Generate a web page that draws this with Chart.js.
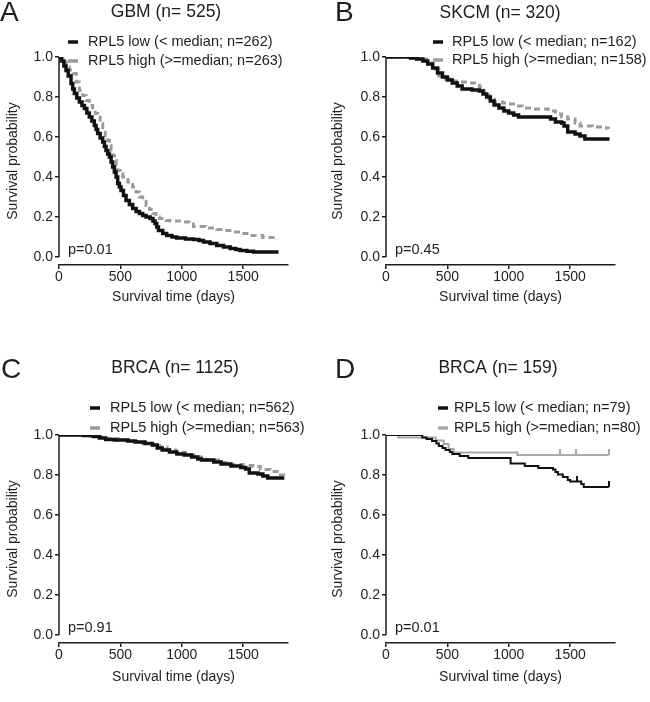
<!DOCTYPE html>
<html>
<head>
<meta charset="utf-8">
<script src="https://cdn.jsdelivr.net/npm/chart.js@4.4.0/dist/chart.umd.min.js"></script>
<style>
  body { margin: 0; background: #fff; width: 650px; height: 702px; position: relative; overflow: hidden; }
  canvas { position: absolute; }
</style>
</head>
<body>
<canvas id="cA" width="325" height="340" style="left:0;top:0"></canvas>
<canvas id="cB" width="325" height="340" style="left:325px;top:0"></canvas>
<canvas id="cC" width="325" height="362" style="left:0;top:340px"></canvas>
<canvas id="cD" width="325" height="362" style="left:325px;top:340px"></canvas>
<script>
// tick values
var xTicks = [0, 500, 1000, 1500];
var yTicks = [0, 0.2, 0.4, 0.6, 0.8, 1.0];

// survival curves, [days, probability]
var gbmLow = [[0,1],[20,0.98],[40,0.955],[57,0.933],[75,0.905],[98,0.867],[112,0.84],[125,0.817],[145,0.795],[166,0.775],[187,0.758],[207,0.742],[227,0.72],[247,0.7],[268,0.68],[288,0.658],[302,0.638],[315,0.617],[335,0.595],[356,0.575],[370,0.553],[383,0.533],[397,0.515],[410,0.5],[424,0.475],[437,0.45],[451,0.425],[465,0.4],[478,0.367],[492,0.35],[505,0.333],[525,0.308],[546,0.283],[573,0.262],[600,0.242],[628,0.228],[655,0.217],[682,0.208],[709,0.2],[742,0.192],[765,0.18],[782,0.167],[796,0.15],[810,0.133],[845,0.118],[877,0.108],[920,0.1],[959,0.095],[1030,0.09],[1095,0.087],[1140,0.082],[1177,0.075],[1230,0.067],[1285,0.058],[1340,0.05],[1394,0.042],[1440,0.038],[1475,0.033],[1530,0.029],[1584,0.025],[1788,0.025]];
var gbmHigh = [[0,1],[30,0.975],[60,0.95],[85,0.935],[111,0.917],[140,0.875],[166,0.833],[193,0.808],[220,0.783],[247,0.758],[274,0.733],[295,0.717],[315,0.7],[335,0.667],[356,0.633],[377,0.608],[397,0.583],[410,0.558],[424,0.533],[437,0.508],[451,0.483],[465,0.458],[478,0.433],[498,0.417],[519,0.4],[540,0.388],[560,0.375],[580,0.362],[600,0.35],[628,0.325],[655,0.3],[682,0.279],[709,0.258],[736,0.238],[763,0.217],[790,0.2],[817,0.192],[872,0.183],[905,0.18],[1014,0.175],[1060,0.165],[1095,0.153],[1190,0.145],[1285,0.137],[1350,0.132],[1421,0.125],[1490,0.117],[1557,0.108],[1660,0.098],[1774,0.087]];

var skcmLow = [[0,1],[150,1],[200,0.995],[250,0.99],[300,0.98],[340,0.965],[380,0.945],[420,0.92],[460,0.9],[500,0.885],[540,0.87],[580,0.855],[620,0.84],[700,0.835],[760,0.83],[790,0.815],[820,0.8],[850,0.78],[880,0.76],[920,0.745],[960,0.73],[1000,0.72],[1040,0.71],[1080,0.7],[1300,0.7],[1340,0.69],[1380,0.675],[1430,0.67],[1450,0.655],[1480,0.625],[1540,0.615],[1580,0.605],[1620,0.59],[1820,0.59]];
var skcmHigh = [[0,1],[150,1],[250,0.99],[330,0.97],[380,0.94],[430,0.905],[470,0.89],[520,0.88],[600,0.875],[680,0.87],[760,0.85],[800,0.82],[840,0.79],[880,0.775],[950,0.77],[1000,0.765],[1060,0.755],[1110,0.745],[1200,0.74],[1320,0.73],[1380,0.715],[1430,0.7],[1480,0.69],[1540,0.67],[1580,0.655],[1680,0.65],[1760,0.645],[1810,0.64]];

var brcaLow = [[0,1],[150,1],[200,0.997],[280,0.993],[330,0.985],[380,0.978],[450,0.975],[560,0.97],[620,0.965],[700,0.958],[760,0.95],[800,0.935],[840,0.925],[900,0.915],[960,0.905],[1020,0.9],[1080,0.89],[1130,0.88],[1160,0.875],[1260,0.865],[1320,0.855],[1400,0.845],[1480,0.838],[1520,0.83],[1550,0.81],[1620,0.805],[1660,0.795],[1700,0.785],[1835,0.785]];
var brcaHigh = [[0,1],[150,1],[250,0.995],[300,0.99],[380,0.982],[480,0.975],[580,0.968],[680,0.958],[760,0.948],[820,0.94],[880,0.925],[950,0.912],[1030,0.9],[1100,0.89],[1200,0.875],[1300,0.862],[1400,0.852],[1500,0.848],[1580,0.842],[1640,0.828],[1720,0.818],[1790,0.8],[1830,0.795]];

var brca2Low = [[0,1],[270,1],[295,0.988],[330,0.98],[375,0.97],[410,0.957],[430,0.945],[460,0.935],[485,0.925],[520,0.915],[540,0.905],[600,0.895],[670,0.885],[1010,0.885],[1015,0.857],[1130,0.845],[1240,0.835],[1360,0.828],[1380,0.815],[1400,0.803],[1440,0.79],[1480,0.775],[1500,0.767],[1590,0.755],[1610,0.74],[1815,0.74]];
var brca2High = [[0,1],[95,1],[100,0.987],[395,0.987],[405,0.973],[470,0.955],[510,0.93],[550,0.912],[1065,0.912],[1070,0.9],[1815,0.9]];
// censored cases
var brca2LowCens = [[205,1],[250,1],[1555,0.767],[1815,0.74]];
var brca2HighCens = [[1415,0.9],[1550,0.9],[1815,0.9]];

var fam = '"Liberation Sans", Arial, sans-serif';
var ink = '#1e1e1e';
var black = '#111111';
var grey = '#9b9b9b';
var greyD = '#a8a8a8';

// small upward tick for censor marks
function censorTick(color) {
    var c = document.createElement('canvas');
    c.width = 2; c.height = 12;
    var g = c.getContext('2d');
    g.fillStyle = color;
    g.fillRect(0, 0, 2, 6);
    return c;
}

// y axis line only from 0 to 1, letter, title, legend and p value
var panelText = {
    id: 'panelText',
    beforeDatasetsDraw: function (chart) {
        var ctx = chart.ctx;
        var ys = chart.scales.y;
        var x = chart.chartArea.left;
        ctx.save();
        ctx.strokeStyle = ink;
        ctx.lineWidth = 1.5;
        ctx.beginPath();
        ctx.moveTo(x, ys.getPixelForValue(1));
        ctx.lineTo(x, ys.getPixelForValue(0));
        ctx.stroke();
        ctx.restore();
    },
    afterDraw: function (chart, args, o) {
        var ctx = chart.ctx;
        var a = chart.chartArea;
        ctx.save();
        ctx.fillStyle = ink;
        ctx.textBaseline = 'middle';
        ctx.textAlign = 'left';
        ctx.font = '28px ' + fam;
        ctx.fillText(o.letter, o.letterX, o.letterY);
        ctx.textAlign = 'center';
        ctx.font = '17.5px ' + fam;
        ctx.fillText(o.title, o.titleX, o.titleY);
        ctx.textAlign = 'left';
        ctx.font = '14.5px ' + fam;
        var i = 0;
        chart.data.datasets.forEach(function (d) {
            if (!d.label) return;
            var y = o.legendY[i++];
            ctx.strokeStyle = d.borderColor;
            ctx.lineWidth = 3.5;
            ctx.beginPath();
            ctx.moveTo(o.legendX, y);
            ctx.lineTo(o.legendX + 10, y);
            ctx.stroke();
            ctx.fillText(d.label, o.legendX + o.textGap, y);
        });
        ctx.fillText(o.pText, a.left + 9, chart.scales.y.getPixelForValue(0) - 7);
        ctx.restore();
    }
};

function lineSet(label, data, color, width, dash) {
    return {
        label: label, data: data, borderColor: color, borderWidth: width,
        borderDash: dash || [], stepped: true, pointRadius: 0, fill: false, tension: 0
    };
}

function censorSet(data, color) {
    return {
        data: data, showLine: false, pointStyle: censorTick(color),
        pointRadius: 4, borderColor: color, backgroundColor: color
    };
}

function makePanel(id, p, datasets) {
    new Chart(document.getElementById(id), {
        type: 'line',
        data: { datasets: datasets },
        options: {
            responsive: false,
            animation: false,
            layout: { padding: { top: p.top, left: 0, right: p.right, bottom: p.bottom } },
            plugins: {
                legend: { display: false },
                tooltip: { enabled: false },
                title: { display: false },
                panelText: p.text
            },
            scales: {
                x: {
                    type: 'linear', min: 0, max: 1865,
                    afterBuildTicks: function (s) { s.ticks = xTicks.map(function (v) { return { value: v }; }); },
                    afterFit: function (s) { s.height = p.xHeight; },
                    border: { display: true, color: ink, width: 1.5 },
                    grid: { drawOnChartArea: false, drawTicks: true, tickLength: 4, color: ink, lineWidth: 1.5 },
                    ticks: { color: ink, font: { family: fam, size: 14 }, padding: 0, maxRotation: 0, autoSkip: false,
                        callback: function (v) { return String(v); } },
                    title: { display: true, text: 'Survival time (days)', color: ink, font: { family: fam, size: 14 },
                        padding: { top: 0, bottom: 1 } }
                },
                y: {
                    type: 'linear', min: -0.04, max: 1.0,
                    afterBuildTicks: function (s) { s.ticks = yTicks.map(function (v) { return { value: v }; }); },
                    afterFit: function (s) { s.width = p.left; },
                    border: { display: false },
                    grid: { drawOnChartArea: false, drawTicks: true, tickLength: 4, color: ink, lineWidth: 1.5 },
                    ticks: { color: ink, font: { family: fam, size: 14 }, padding: 2,
                        callback: function (v) { return v.toFixed(1); } },
                    title: { display: true, text: 'Survival probability', color: ink, font: { family: fam, size: 14 },
                        padding: { top: 5, bottom: 0 } }
                }
            }
        },
        plugins: [panelText]
    });
}

makePanel('cA', { top: 57, right: 37, bottom: 33, left: 59, xHeight: 42,
    text: { letter: 'A', letterX: 0, letterY: 13, title: 'GBM (n= 525)', titleX: 166, titleY: 12,
        legendX: 68, legendY: [42, 61], textGap: 20, pText: 'p=0.01' } }, [
    lineSet('RPL5 low (< median; n=262)', gbmLow, black, 3.5),
    lineSet('RPL5 high (>=median; n=263)', gbmHigh, grey, 3, [6, 4])
]);

makePanel('cB', { top: 57, right: 35, bottom: 33, left: 61, xHeight: 42,
    text: { letter: 'B', letterX: 10, letterY: 13, title: 'SKCM (n= 320)', titleX: 175, titleY: 13,
        legendX: 108, legendY: [42, 60], textGap: 19, pText: 'p=0.45' } }, [
    lineSet('RPL5 low (< median; n=162)', skcmLow, black, 3.5),
    lineSet('RPL5 high (>=median; n=158)', skcmHigh, grey, 3, [6, 4])
]);

makePanel('cC', { top: 95, right: 37, bottom: 15, left: 59, xHeight: 44,
    text: { letter: 'C', letterX: 1, letterY: 30, title: 'BRCA (n= 1125)', titleX: 175, titleY: 28,
        legendX: 90, legendY: [68, 88], textGap: 20, pText: 'p=0.91' } }, [
    lineSet('RPL5 low (< median; n=562)', brcaLow, black, 3.5),
    lineSet('RPL5 high (>=median; n=563)', brcaHigh, grey, 3, [6, 4])
]);

makePanel('cD', { top: 95, right: 35, bottom: 15, left: 61, xHeight: 44,
    text: { letter: 'D', letterX: 10, letterY: 30, title: 'BRCA (n= 159)', titleX: 173, titleY: 28,
        legendX: 113, legendY: [68, 88], textGap: 16, pText: 'p=0.01' } }, [
    lineSet('RPL5 low (< median; n=79)', brca2Low, black, 2),
    lineSet('RPL5 high (>=median; n=80)', brca2High, greyD, 2),
    censorSet(brca2LowCens, black),
    censorSet(brca2HighCens, greyD)
]);
</script>
</body>
</html>
